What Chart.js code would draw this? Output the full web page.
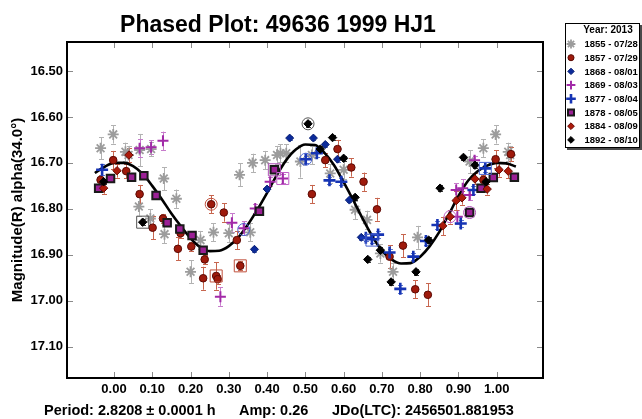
<!DOCTYPE html>
<html>
<head>
<meta charset="utf-8">
<script src="https://cdn.jsdelivr.net/npm/chart.js@4/dist/chart.umd.min.js"></script>
<style>
  html, body { margin: 0; padding: 0; background: #fff; }
  #wrap { width: 642px; height: 419px; }
</style>
</head>
<body>
<div id="wrap"><canvas id="c" width="642" height="419"></canvas></div>
<script>
// ---- observation nights (phase, reduced magnitude, 1-sigma error) ----
const yearLabels = ['1855 - 07/28', '1857 - 07/29', '1868 - 08/01', '1869 - 08/03',
                    '1877 - 08/04', '1878 - 08/05', '1884 - 08/09', '1892 - 08/10'];
const legendTitle = 'Year: 2013';

const phase1855 = [-0.035, -0.002, 0.030, 0.038, 0.067, 0.097, 0.130, 0.163, 0.065, 0.095, 0.132, 0.200,
                   0.226, 0.260, 0.300, 0.356, 0.328, 0.362, 0.395, 0.426, 0.435, 0.450, 0.487, 0.517,
                   0.565, 0.600, 0.630, 0.661, 0.696, 0.729, 0.793, 0.929, 0.965, 0.997, 1.030, 1.035];
const mag1855 = [16.668, 16.638, 16.676, 16.683, 16.672, 16.670, 16.734, 16.778, 16.795, 16.821, 16.855, 16.937,
                 16.868, 16.851, 16.853, 16.851, 16.726, 16.700, 16.694, 16.683, 16.679, 16.679, 16.697, 16.683,
                 16.723, 16.715, 16.802, 16.824, 16.897, 16.937, 16.862, 16.697, 16.668, 16.638, 16.676, 16.683];
const err1855 = [0.024, 0.020, 0.020, 0.020, 0.035, 0.015, 0.025, 0.020, 0.020, 0.020, 0.020, 0.025,
                 0.020, 0.020, 0.020, 0.020, 0.025, 0.020, 0.020, 0.020, 0.020, 0.020, 0.035, 0.020,
                 0.020, 0.020, 0.020, 0.020, 0.020, 0.020, 0.025, 0.025, 0.020, 0.020, 0.020, 0.020];

const phase1857 = [-0.035, -0.002, 0.032, 0.067, 0.101, 0.128, 0.174, 0.167, 0.202, 0.237, 0.233, 0.254,
                   0.267, 0.271, 0.287, 0.321, 0.330, 0.517, 0.552, 0.584, 0.620, 0.652, 0.687, 0.720,
                   0.755, 0.787, 0.820, 0.965, 0.997, 1.037];
const mag1857 = [16.737, 16.694, 16.718, 16.768, 16.841, 16.821, 16.853, 16.887, 16.882, 16.910, 16.951, 16.790,
                 16.946, 16.953, 16.808, 16.868, 16.924, 16.768, 16.694, 16.670, 16.710, 16.741, 16.801, 16.904,
                 16.880, 16.975, 16.987, 16.737, 16.692, 16.681];
const err1857 = [0.010, 0.020, 0.015, 0.020, 0.025, 0.010, 0.010, 0.025, 0.010, 0.010, 0.025, 0.020,
                 0.030, 0.010, 0.020, 0.020, 0.010, 0.020, 0.015, 0.020, 0.020, 0.020, 0.025, 0.025,
                 0.025, 0.020, 0.025, 0.010, 0.020, 0.015];

const phase1868 = [0.367, 0.400, 0.459, 0.521, 0.552, 0.584, 0.615, 0.646];
const mag1868 = [16.888, 16.757, 16.646, 16.646, 16.660, 16.692, 16.781, 16.862];
const err1868 = [0.005, 0.005, 0.005, 0.005, 0.005, 0.005, 0.005, 0.005];

const phase1869 = [0.067, 0.097, 0.128, 0.278, 0.308, 0.339, 0.369, 0.408, 0.441, 0.894, 0.897, 0.911, 0.929, 0.942];
const mag1869 = [16.668, 16.666, 16.652, 16.991, 16.830, 16.842, 16.799, 16.741, 16.734, 16.759, 16.817, 16.755, 16.770, 16.694];
const err1869 = [0.020, 0.015, 0.020, 0.020, 0.020, 0.015, 0.010, 0.010, 0.010, 0.015, 0.015, 0.020, 0.010, 0.010];

const phase1877 = [-0.031, 0.501, 0.530, 0.563, 0.594, 0.658, 0.674, 0.690, 0.720, 0.748, 0.782, 0.815,
                   0.845, 0.906, 0.939, 0.970];
const mag1877 = [16.715, 16.692, 16.679, 16.738, 16.741, 16.863, 16.866, 16.856, 16.895, 16.974, 16.904, 16.870,
                 16.835, 16.832, 16.759, 16.712];
const err1877 = [0.012, 0.008, 0.008, 0.008, 0.008, 0.008, 0.008, 0.008, 0.008, 0.008, 0.008, 0.008,
                 0.008, 0.008, 0.008, 0.008];

const phase1878 = [-0.040, -0.009, 0.046, 0.078, 0.110, 0.139, 0.172, 0.204, 0.233, 0.380, 0.419, 0.929, 0.959, 0.991, 1.046];
const mag1878 = [16.755, 16.734, 16.731, 16.728, 16.771, 16.830, 16.844, 16.858, 16.890, 16.805, 16.715, 16.808, 16.755, 16.732, 16.731];
const err1878 = [0.008, 0.008, 0.008, 0.008, 0.008, 0.008, 0.008, 0.008, 0.008, 0.008, 0.008, 0.008, 0.008, 0.008, 0.008];

const phase1884 = [-0.027, 0.008, 0.039, 0.859, 0.878, 0.894, 0.909, 0.943, 0.975, 1.006, 1.030];
const mag1884 = [16.755, 16.717, 16.683, 16.837, 16.817, 16.782, 16.776, 16.735, 16.757, 16.715, 16.718];
const err1884 = [0.012, 0.015, 0.015, 0.020, 0.015, 0.020, 0.015, 0.012, 0.012, 0.015, 0.015];

const phase1892 = [-0.027, 0.075, 0.507, 0.539, 0.571, 0.600, 0.630, 0.663, 0.696, 0.724, 0.789, 0.822,
                   0.852, 0.913, 0.943, 0.972];
const mag1892 = [16.741, 16.829, 16.615, 16.670, 16.645, 16.690, 16.775, 16.910, 16.890, 16.959, 16.937, 16.868,
                 16.755, 16.688, 16.705, 16.741];
const err1892 = [0.006, 0.006, 0.006, 0.006, 0.006, 0.006, 0.006, 0.006, 0.006, 0.006, 0.006, 0.006,
                 0.006, 0.006, 0.006, 0.006];

// flagged observations: circled and boxed, with the night they belong to
const ringPhase = [0.254, 0.507, 0.501, 0.339, 0.878, 0.929];
const ringMag = [16.790, 16.615, 16.692, 16.845, 16.817, 16.808];
const ringNight = [1, 7, 4, 4, 3, 5];
const boxPhase = [0.075, 0.267, 0.330, 0.419, 0.441, 0.674, 0.970];
const boxMag = [16.829, 16.946, 16.924, 16.715, 16.734, 16.868, 16.712];
const boxNight = [7, 1, 1, 5, 3, 4, 4];

// Fourier fit of the lightcurve
const fitPhase = [-0.050, -0.025, 0.000, 0.025, 0.050, 0.075, 0.100, 0.125, 0.150, 0.175, 0.200, 0.225,
                  0.250, 0.275, 0.300, 0.325, 0.350, 0.375, 0.400, 0.425, 0.450, 0.475, 0.500, 0.525,
                  0.550, 0.575, 0.600, 0.625, 0.650, 0.675, 0.700, 0.725, 0.750, 0.775, 0.800, 0.825,
                  0.850, 0.875, 0.900, 0.925, 0.950, 0.975, 1.000, 1.025, 1.050];
const fitMag = [16.722, 16.709, 16.700, 16.700, 16.707, 16.724, 16.750, 16.779, 16.810, 16.838, 16.864, 16.883,
                16.892, 16.891, 16.881, 16.862, 16.834, 16.801, 16.765, 16.727, 16.694, 16.671, 16.660, 16.661,
                16.678, 16.705, 16.742, 16.781, 16.822, 16.860, 16.891, 16.910, 16.919, 16.918, 16.904, 16.881,
                16.850, 16.812, 16.772, 16.739, 16.718, 16.706, 16.700, 16.701, 16.708];

const xTicks = [0.0, 0.1, 0.2, 0.3, 0.4, 0.5, 0.6, 0.7, 0.8, 0.9, 1.0];
const yTicks = [16.5, 16.6, 16.7, 16.8, 16.9, 17.0, 17.1];

const titleText = 'Phased Plot: 49636 1999 HJ1';
const periodText = 'Period: 2.8208 \u00b1 0.0001 h';
const ampText = 'Amp: 0.26';
const epochText = 'JDo(LTC): 2456501.881953';

// ---- drawing ----
const FONT = "'Liberation Sans', Arial, Helvetica, sans-serif";

const nights = [
  { phase: phase1855, mag: mag1855, err: err1855 },
  { phase: phase1857, mag: mag1857, err: err1857 },
  { phase: phase1868, mag: mag1868, err: err1868 },
  { phase: phase1869, mag: mag1869, err: err1869 },
  { phase: phase1877, mag: mag1877, err: err1877 },
  { phase: phase1878, mag: mag1878, err: err1878 },
  { phase: phase1884, mag: mag1884, err: err1884 },
  { phase: phase1892, mag: mag1892, err: err1892 }
];

const looks = [
  { pointStyle: 'star',    radius: 5.5, borderWidth: 1.8, fill: '#9c9c9c', line: '#9c9c9c', bar: '#b2b2b2', ring: '#999999' },
  { pointStyle: 'circle',  radius: 3.8, borderWidth: 1,   fill: '#9e1a0c', line: '#5c0a04', bar: '#c7664f', ring: '#c0503c' },
  { pointStyle: 'rectRot', radius: 4,   borderWidth: 1,   fill: '#0b2a9a', line: '#081e72', bar: '#6a7cc4', ring: '#4a64d0' },
  { pointStyle: 'cross',   radius: 5.5, borderWidth: 2,   fill: '#a22aa8', line: '#a22aa8', bar: '#c77ccc', ring: '#c060c8' },
  { pointStyle: 'cross',   radius: 6,   borderWidth: 2.6, fill: '#1634b4', line: '#1634b4', bar: '#6078d0', ring: '#4a64d0' },
  { pointStyle: 'rect',    radius: 5.3, borderWidth: 2,   fill: '#9c2096', line: '#1a1a1a', bar: '#b060b0', ring: '#b050b8' },
  { pointStyle: 'rectRot', radius: 4.2, borderWidth: 1,   fill: '#ac1a0a', line: '#6a0a04', bar: '#c86650', ring: '#c0503c' },
  { pointStyle: 'rectRot', radius: 4.2, borderWidth: 1,   fill: '#000000', line: '#000000', bar: '#3a3a3a', ring: '#555555' }
];

const toPoints = (xs, ys) => xs.map((x, i) => ({ x: x, y: ys[i] }));

const datasets = [];
nights.forEach((n, i) => {
  const lk = looks[i];
  datasets.push({
    type: 'scatter',
    label: yearLabels[i],
    data: toPoints(n.phase, n.mag),
    errors: n.err,
    errorColor: lk.bar,
    pointStyle: lk.pointStyle,
    pointRadius: lk.radius,
    pointBorderWidth: lk.borderWidth,
    backgroundColor: lk.fill,
    borderColor: lk.line,
    order: 10 - i
  });
});
datasets.push({
  type: 'line',
  label: 'fit',
  data: toPoints(fitPhase, fitMag),
  borderColor: '#000',
  borderWidth: 2.6,
  pointRadius: 0,
  fill: false,
  cubicInterpolationMode: 'monotone',
  order: 9.5
});
datasets.push({
  type: 'scatter',
  label: 'circled',
  data: toPoints(ringPhase, ringMag),
  pointStyle: 'circle',
  pointRadius: 6,
  pointBorderWidth: 1,
  backgroundColor: 'rgba(0,0,0,0)',
  pointBorderColor: ctx => looks[ringNight[ctx.dataIndex]].ring,
  order: 1
});
datasets.push({
  type: 'scatter',
  label: 'boxed',
  data: toPoints(boxPhase, boxMag),
  pointStyle: 'rect',
  pointRadius: 8.5,
  pointBorderWidth: 1,
  backgroundColor: 'rgba(0,0,0,0)',
  pointBorderColor: ctx => looks[boxNight[ctx.dataIndex]].ring,
  order: 1
});

const decor = {
  id: 'decor',
  beforeDatasetsDraw(chart) {
    // vertical error bars with small caps, behind the markers
    const { ctx, chartArea: a, scales: { y } } = chart;
    ctx.save();
    ctx.beginPath();
    ctx.rect(a.left, a.top, a.right - a.left, a.bottom - a.top);
    ctx.clip();
    chart.data.datasets.forEach((ds, i) => {
      if (!ds.errors) return;
      const meta = chart.getDatasetMeta(i);
      ctx.strokeStyle = ds.errorColor;
      ctx.lineWidth = 1;
      meta.data.forEach((pt, j) => {
        const v = ds.data[j].y, e = ds.errors[j];
        const y1 = y.getPixelForValue(v - e), y2 = y.getPixelForValue(v + e);
        const x = Math.round(pt.x) + 0.5;
        ctx.beginPath();
        ctx.moveTo(x, y1); ctx.lineTo(x, y2);
        ctx.moveTo(x - 2.5, Math.round(y1) + 0.5); ctx.lineTo(x + 2.5, Math.round(y1) + 0.5);
        ctx.moveTo(x - 2.5, Math.round(y2) + 0.5); ctx.lineTo(x + 2.5, Math.round(y2) + 0.5);
        ctx.stroke();
      });
    });
    ctx.restore();
  },
  afterDraw(chart) {
    const { ctx, chartArea: a, scales: { x, y } } = chart;
    ctx.save();

    // inward tick marks on all four sides
    ctx.strokeStyle = '#8a8a8a';
    ctx.lineWidth = 1;
    const tl = 6;
    x.ticks.forEach(t => {
      const px = Math.round(x.getPixelForValue(t.value)) + 0.5;
      ctx.beginPath();
      ctx.moveTo(px, a.bottom); ctx.lineTo(px, a.bottom - tl);
      ctx.moveTo(px, a.top); ctx.lineTo(px, a.top + tl);
      ctx.stroke();
    });
    y.ticks.forEach(t => {
      const py = Math.round(y.getPixelForValue(t.value)) + 0.5;
      ctx.beginPath();
      ctx.moveTo(a.left, py); ctx.lineTo(a.left + tl, py);
      ctx.moveTo(a.right, py); ctx.lineTo(a.right - tl, py);
      ctx.stroke();
    });

    // plot frame
    ctx.strokeStyle = '#000';
    ctx.lineWidth = 2;
    ctx.strokeRect(a.left, a.top, a.right - a.left, a.bottom - a.top);

    // title
    ctx.fillStyle = '#000';
    ctx.font = 'bold 23px ' + FONT;
    ctx.textAlign = 'center';
    ctx.textBaseline = 'alphabetic';
    ctx.fillText(titleText, 278, 31.5);

    // period / amplitude / epoch line
    ctx.font = 'bold 14.5px ' + FONT;
    ctx.textAlign = 'left';
    ctx.textBaseline = 'middle';
    ctx.fillText(periodText, 44, 411);
    ctx.fillText(ampText, 239, 411);
    ctx.fillText(epochText, 332, 411);

    // legend box with drop shadow
    const lx = 565, ly = 23, lw = 75, lh = 125;
    ctx.fillStyle = '#4a4a4a';
    ctx.fillRect(lx + 2, ly + 2, lw, lh);
    ctx.fillStyle = '#fff';
    ctx.fillRect(lx, ly, lw, lh);
    ctx.strokeStyle = '#000';
    ctx.lineWidth = 1;
    ctx.strokeRect(lx + 0.5, ly + 0.5, lw - 1, lh - 1);

    ctx.fillStyle = '#000';
    ctx.font = 'bold 10px ' + FONT;
    ctx.textAlign = 'center';
    ctx.fillText(legendTitle, 608, 30);

    ctx.font = 'bold 9.5px ' + FONT;
    ctx.textAlign = 'left';
    yearLabels.forEach((lab, i) => {
      const lk = looks[i];
      const cy = 44 + i * 13.7;
      ctx.fillStyle = lk.fill;
      ctx.strokeStyle = lk.line;
      ctx.lineWidth = lk.borderWidth;
      Chart.helpers.drawPoint(ctx, { pointStyle: lk.pointStyle, radius: lk.radius * 0.8, borderWidth: lk.borderWidth, rotation: 0 }, 571, cy);
      ctx.fillStyle = '#000';
      ctx.fillText(lab, 584.5, cy + 0.5);
    });
    ctx.restore();
  }
};

const tickFont = { family: FONT, size: 13, weight: 'bold' };

new Chart(document.getElementById('c'), {
  type: 'scatter',
  data: { datasets: datasets },
  options: {
    responsive: false,
    animation: false,
    events: [],
    layout: { padding: { top: 42, right: 99, left: 0, bottom: 0 } },
    plugins: { legend: { display: false }, tooltip: { enabled: false }, title: { display: false } },
    scales: {
      x: {
        type: 'linear',
        position: 'bottom',
        min: -0.1227,
        max: 1.1208,
        afterBuildTicks: s => { s.ticks = xTicks.map(v => ({ value: v })); },
        afterFit: s => { s.height = 41; },
        grid: { display: false, drawTicks: false },
        border: { display: false },
        ticks: { padding: 4, color: '#000', font: tickFont, autoSkip: false, maxRotation: 0,
                 callback: v => Number(v).toFixed(2) }
      },
      y: {
        type: 'linear',
        reverse: true,
        min: 16.437,
        max: 17.168,
        afterBuildTicks: s => { s.ticks = yTicks.map(v => ({ value: v })); },
        afterFit: s => { s.width = 67; },
        grid: { display: false, drawTicks: false },
        border: { display: false },
        ticks: { padding: 4, color: '#000', font: tickFont, autoSkip: false,
                 callback: v => Number(v).toFixed(2) },
        title: { display: true, text: 'Magnitude(R) alpha(34.0\u00b0)', color: '#000',
                 font: { family: FONT, size: 15, weight: 'bold' }, padding: { top: 9, bottom: 0 } }
      }
    }
  },
  plugins: [decor]
});
</script>
</body>
</html>
